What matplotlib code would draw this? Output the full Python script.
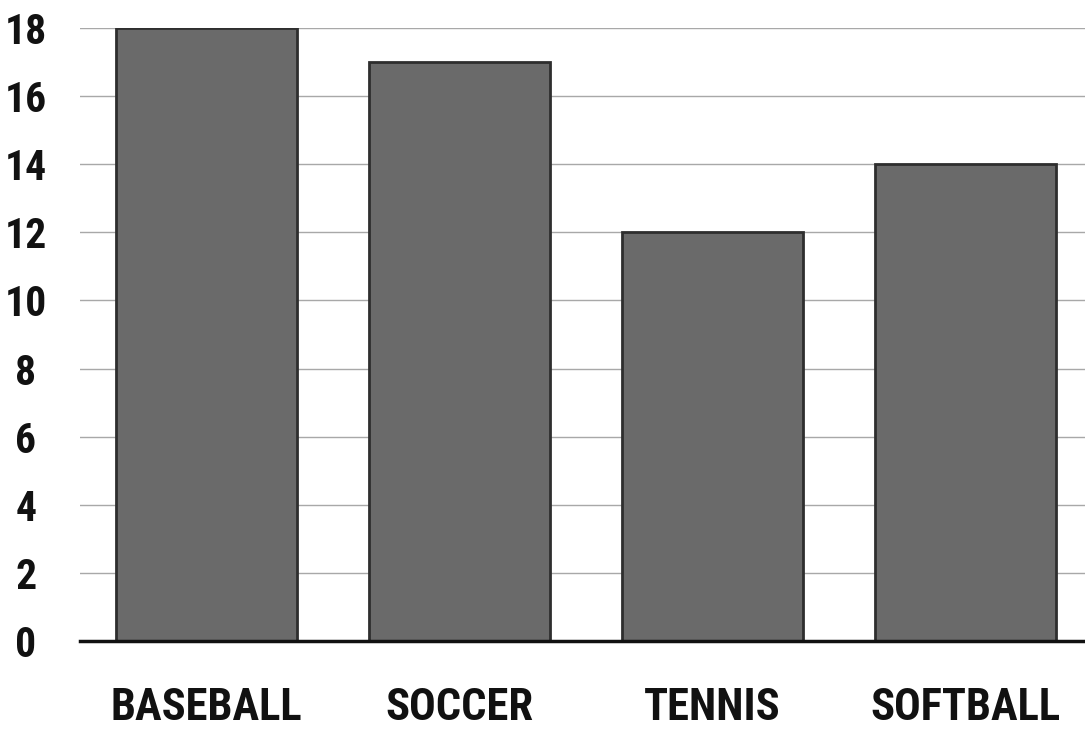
import matplotlib
matplotlib.use("Agg")
import matplotlib.pyplot as plt

# Data
sports = ["BASEBALL", "SOCCER", "TENNIS", "SOFTBALL"]
counts = [18, 17, 12, 14]
y_ticks = [0, 2, 4, 6, 8, 10, 12, 14, 16, 18]

label_family = ["Roboto Condensed", "DejaVu Sans"]

W, H = 1085, 736
fig = plt.figure(figsize=(W / 100, H / 100), dpi=100)
ax = fig.add_axes([80 / W, (H - 641) / H, (W - 80) / W, (641 - 28) / H])

x = list(range(len(sports)))
ax.bar(x, counts, width=0.716, color="#6a6a6a", edgecolor="#2e2e2e",
       linewidth=2.0, zorder=3)

ax.set_xlim(-0.5, 3.474)
ax.set_ylim(0, 18)
ax.set_yticks(y_ticks)
ax.set_yticklabels([str(v) for v in y_ticks])
ax.set_xticks(x)
ax.set_xticklabels(sports)

ax.yaxis.grid(True, color="#a8a8a8", linewidth=1.0, zorder=0)
ax.set_axisbelow(True)

for s in ["left", "right", "top"]:
    ax.spines[s].set_visible(False)
ax.spines["bottom"].set_linewidth(2.5)
ax.spines["bottom"].set_color("#111111")
ax.spines["bottom"].set_zorder(4)

ax.tick_params(axis="both", length=0)
ax.tick_params(axis="x", pad=33)
ax.tick_params(axis="y", pad=39)

for t in ax.get_xticklabels():
    t.set_family(label_family)
    t.set_fontweight("bold")
    t.set_fontsize(32)
    t.set_color("#111111")
for t in ax.get_yticklabels():
    t.set_family(label_family)
    t.set_fontweight("bold")
    t.set_fontsize(30)
    t.set_color("#111111")
    t.set_horizontalalignment("center")

fig.savefig("out.png", dpi=100, facecolor="white")
